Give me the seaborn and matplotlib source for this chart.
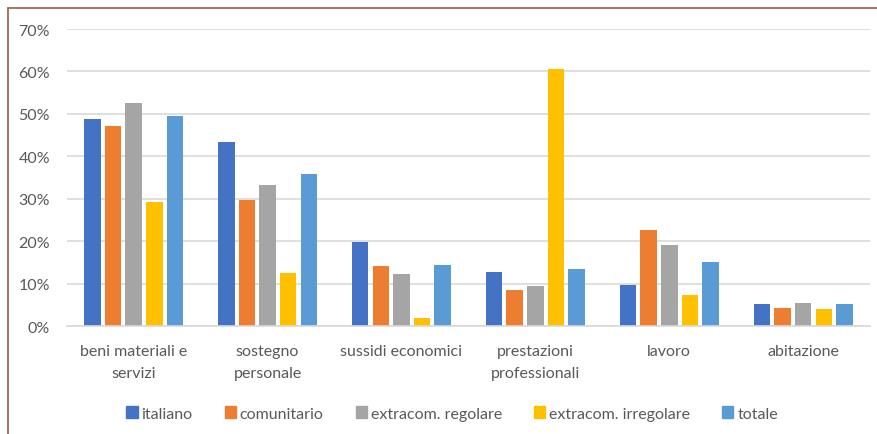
import pandas as pd
import matplotlib.pyplot as plt
import seaborn as sns
from matplotlib.lines import Line2D
from matplotlib.patches import Patch
from matplotlib.ticker import PercentFormatter

categories = ['beni materiali e\nservizi', 'sostegno\npersonale', 'sussidi economici',
              'prestazioni\nprofessionali', 'lavoro', 'abitazione']
groups = ['italiano', 'comunitario', 'extracom. regolare', 'extracom. irregolare', 'totale']

italiano = [48.9, 43.4, 19.8, 12.7, 9.7, 5.2]
comunitario = [47.2, 29.7, 14.2, 8.5, 22.6, 4.2]
extracom_regolare = [52.6, 33.3, 12.3, 9.4, 19.2, 5.4]
extracom_irregolare = [29.2, 12.5, 1.8, 60.6, 7.3, 4.0]
totale = [49.6, 35.8, 14.5, 13.5, 15.2, 5.2]

colors = ['#4472C4', '#ED7D31', '#A5A5A5', '#FFC000', '#5B9BD5']

# long form table for seaborn
series = [italiano, comunitario, extracom_regolare, extracom_irregolare, totale]
rows = []
for g, vals in zip(groups, series):
    for c, v in zip(categories, vals):
        rows.append({'categoria': c, 'gruppo': g, 'valore': v / 100})
df = pd.DataFrame(rows)

sns.set_style('white')
plt.rcParams['font.family'] = ['Lato', 'DejaVu Sans']
text_col = '#595959'

fig = plt.figure(figsize=(8.78, 4.35), dpi=100)
ax = fig.add_axes([0.076, 0.248, 0.915, 0.683])

sns.barplot(data=df, x='categoria', y='valore', hue='gruppo', order=categories,
            hue_order=groups, palette=colors, saturation=1, width=0.77, gap=0.2,
            linewidth=0, ax=ax, legend=False)

ax.set_ylim(0, 0.7)
ax.set_yticks([i / 10 for i in range(8)])
ax.yaxis.set_major_formatter(PercentFormatter(1.0, decimals=0))
ax.grid(axis='y', color='#D9D9D9', linewidth=1.2)
ax.set_axisbelow(True)
for s in ['left', 'right', 'top']:
    ax.spines[s].set_visible(False)
ax.spines['bottom'].set_color('#D9D9D9')
ax.spines['bottom'].set_linewidth(1.2)
ax.tick_params(axis='both', length=0, colors=text_col, labelsize=11.5)
ax.tick_params(axis='x', pad=13)
ax.tick_params(axis='y', pad=12)
for lbl in ax.get_xticklabels():
    lbl.set_linespacing(1.75)
ax.set_xlabel('')
ax.set_ylabel('')

handles = [Patch(facecolor=c, edgecolor=c) for c in colors]
fig.legend(handles, groups, loc='center', bbox_to_anchor=(0.515, 0.047), ncol=5,
           frameon=False, fontsize=11.5, labelcolor=text_col, handletextpad=0.25,
           handlelength=0.7, handleheight=0.7, columnspacing=2.0)

# outer chart border (left and top visible)
fig.add_artist(Line2D([0.009, 0.009], [0, 0.979], color='#9E5A4E', linewidth=1.2))
fig.add_artist(Line2D([0.009, 1.0], [0.979, 0.979], color='#9E5A4E', linewidth=1.2))

fig.savefig('out.png', dpi=100)
